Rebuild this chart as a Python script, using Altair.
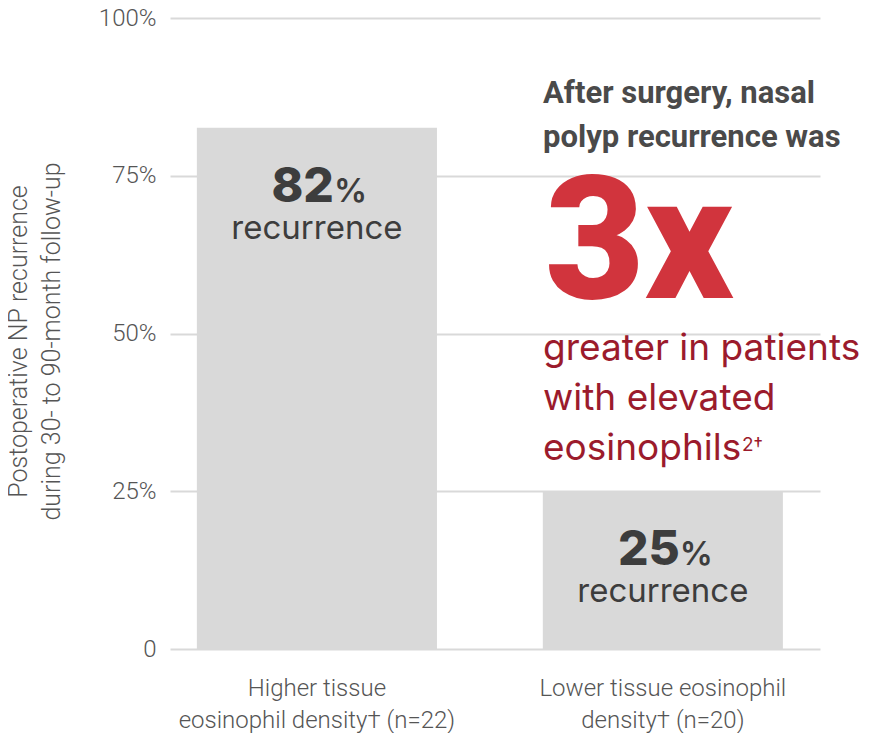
import altair as alt
import pandas as pd

# ---- data ----
categories = ["Higher tissue|eosinophil density† (n=22)",
              "Lower tissue eosinophil|density† (n=20)"]
recurrence_pct = [82.6, 25.0]
value_labels = ["82", "25"]
y_ticks = [0, 25, 50, 75, 100]
y_title = ["Postoperative NP recurrence", "during 30- to 90-month follow-up"]
headline = ["After surgery, nasal", "polyp recurrence was"]
big_stat = "3x"
subline = ["greater in patients", "with elevated", "eosinophils"]
sup_text = "2†"

df = pd.DataFrame({"group": categories, "pct": recurrence_pct, "num": value_labels})
one = pd.DataFrame({"k": [0]})

W, H = 650, 631
GRAY_TXT = "#555555"
DARK = "#3d3d3d"

x_enc = alt.X(
    "group:N", sort=categories,
    scale=alt.Scale(paddingInner=0.306, paddingOuter=0.0925, align=0.42),
    axis=alt.Axis(title=None, labelExpr="split(datum.label, '|')", labelAngle=0,
                  labelFont="Roboto", labelFontSize=24, labelFontWeight=300,
                  labelColor=GRAY_TXT, labelPadding=27, labelLineHeight=32,
                  labelBaseline="top", labelLimit=600,
                  ticks=False, domain=False, grid=False),
)
y_enc = alt.Y(
    "pct:Q",
    scale=alt.Scale(domain=[0, 100], nice=False),
    axis=alt.Axis(values=y_ticks,
                  labelExpr="datum.value == 0 ? '0' : datum.value + '%'",
                  labelFont="Roboto", labelFontSize=24, labelFontWeight=300,
                  labelColor=GRAY_TXT, labelPadding=14,
                  ticks=False, domain=False,
                  grid=True, gridColor="#d9d9d9", gridWidth=2,
                  title=y_title, titleFont="Roboto", titleFontSize=25,
                  titleFontWeight=300, titleColor=GRAY_TXT,
                  titleLineHeight=33, titleAngle=270,
                  titleX=-144, titleY=323, titleAlign="center",
                  titleBaseline="alphabetic", titleLimit=800),
)

base = alt.Chart(df)
bars = base.mark_bar(color="#d9d9d9").encode(x=x_enc, y=y_enc)

nums = base.mark_text(align="right", baseline="alphabetic", dx=17, dy=74,
                      font="Inter", fontSize=48, fontWeight=800, color=DARK
                      ).encode(x=alt.X("group:N", sort=categories), y="pct:Q", text="num:N")
pct_sign = base.mark_text(align="left", baseline="alphabetic", dx=17, dy=74,
                          font="Inter", fontSize=33, fontWeight=600, color=DARK
                          ).encode(x=alt.X("group:N", sort=categories), y="pct:Q",
                                   text=alt.value("%"))
rec = base.mark_text(align="center", baseline="alphabetic", dy=111,
                     font="Inter", fontSize=33, fontWeight=400, color=DARK
                     ).encode(x=alt.X("group:N", sort=categories), y="pct:Q",
                              text=alt.value("recurrence"))

ann = alt.Chart(one)
head = ann.mark_text(text=headline, align="left", baseline="alphabetic",
                     font="Roboto", fontSize=31, fontWeight=700, color="#4a4a4a",
                     lineHeight=44).encode(x=alt.value(373), y=alt.value(85))
big = ann.mark_text(text=big_stat, align="left", baseline="alphabetic",
                    font="Roboto", fontSize=172, fontWeight=900, color="#d1343d"
                    ).encode(x=alt.value(375), y=alt.value(280))
sub = ann.mark_text(text=subline, align="left", baseline="alphabetic",
                    font="Inter", fontSize=37, fontWeight=400, color="#9b1b2c",
                    lineHeight=50).encode(x=alt.value(373), y=alt.value(342))
sup = ann.mark_text(text=sup_text, align="left", baseline="alphabetic",
                    font="Inter", fontSize=19, fontWeight=400, color="#9b1b2c"
                    ).encode(x=alt.value(572), y=alt.value(433))

chart = alt.layer(bars, nums, pct_sign, rec, head, big, sub, sup).properties(
    width=W, height=H,
    autosize=alt.AutoSizeParams(type="none"),
    padding={"left": 162, "top": 10, "right": 40, "bottom": 84},
    background="white",
).configure_view(stroke=None)

chart.save("out.html", embed_options={"renderer": "svg", "actions": False})
